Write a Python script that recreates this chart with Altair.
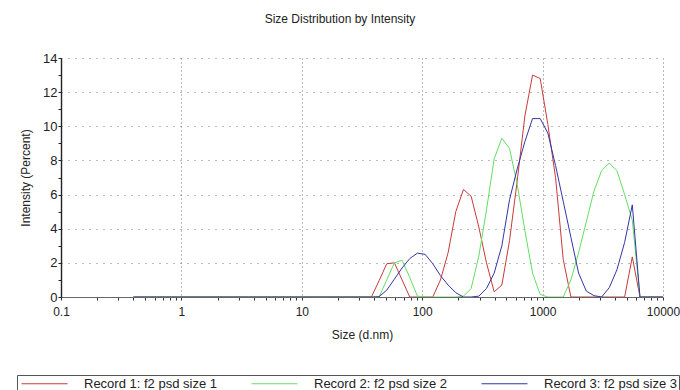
import altair as alt
import pandas as pd

# Malvern size classes (d.nm)
sizes = [0.4, 0.4632, 0.5365, 0.6213, 0.7195, 0.8332, 0.9649, 1.117, 1.294, 1.499,
         1.736, 2.01, 2.328, 2.696, 3.122, 3.615, 4.187, 4.849, 5.615, 6.503,
         7.531, 8.721, 10.1, 11.7, 13.54, 15.69, 18.17, 21.04, 24.36, 28.21,
         32.67, 37.84, 43.82, 50.75, 58.77, 68.06, 78.82, 91.28, 105.7, 122.4,
         141.8, 164.2, 190.1, 220.2, 255.0, 295.3, 342.0, 396.1, 458.7, 531.2,
         615.1, 712.4, 825.0, 955.4, 1106, 1281, 1484, 1718, 1990, 2305,
         2669, 3091, 3580, 4145, 4801, 5560, 6439, 7456, 8635, 10000]

record_1 = [0, 0, 0, 0, 0, 0, 0, 0, 0, 0,
            0, 0, 0, 0, 0, 0, 0, 0, 0, 0,
            0, 0, 0, 0, 0, 0, 0, 0, 0, 0,
            0, 0, 0.95, 1.95, 2.0, 1.0, 0, 0, 0, 0,
            1.0, 2.6, 5.0, 6.3, 5.9, 4.1, 2.0, 0.3, 0.7, 3.3,
            6.8, 10.6, 13.0, 12.8, 10.1, 7.0, 2.2, 0, 0, 0,
            0, 0, 0, 0, 0, 2.35, 0, 0, 0, 0]

record_2 = [0, 0, 0, 0, 0, 0, 0, 0, 0, 0,
            0, 0, 0, 0, 0, 0, 0, 0, 0, 0,
            0, 0, 0, 0, 0, 0, 0, 0, 0, 0,
            0, 0, 0, 1.0, 2.0, 2.15, 1.15, 0.05, 0, 0,
            0, 0, 0, 0.05, 0.5, 2.4, 5.1, 8.1, 9.3, 8.7,
            6.6, 3.9, 1.4, 0.15, 0, 0, 0, 1.0, 2.6, 4.4,
            6.2, 7.4, 7.85, 7.4, 6.0, 4.5, 0, 0, 0, 0]

record_3 = [0, 0, 0, 0, 0, 0, 0, 0, 0, 0,
            0, 0, 0, 0, 0, 0, 0, 0, 0, 0,
            0, 0, 0, 0, 0, 0, 0, 0, 0, 0,
            0, 0, 0.02, 0.4, 1.05, 1.7, 2.25, 2.57, 2.5, 1.95,
            1.25, 0.7, 0.25, 0, 0, 0.05, 0.5, 1.4, 3.0, 5.7,
            7.5, 9.1, 10.45, 10.45, 9.6, 7.7, 5.6, 3.5, 1.4, 0.35,
            0.08, 0, 0.55, 1.6, 3.2, 5.4, 0, 0, 0, 0]

series_names = ["Record 1: f2 psd size 1", "Record 2: f2 psd size 2", "Record 3: f2 psd size 3"]
series_colors = ["#c93a3a", "#62de62", "#3535a8"]

x_ticks = [m * d for d in [0.1, 1, 10, 100, 1000] for m in range(1, 10)] + [10000]
y_ticks = list(range(0, 15))

rows = []
for name, vals in zip(series_names, [record_1, record_2, record_3]):
    for s, v in zip(sizes, vals):
        rows.append({"size": s, "intensity": v, "record": name})
df = pd.DataFrame(rows)

font = "Liberation Sans"
txt = "#222222"
x_major = "indexof([0.1, 1, 10, 100, 1000, 10000], datum.value) >= 0"
y_major = "datum.value % 2 == 0"

x_axis = alt.Axis(
    values=x_ticks,
    labelExpr=f"({x_major}) ? format(datum.value, '~g') : ''",
    labelOverlap=False, labelFlush=False,
    grid=True,
    gridOpacity={"condition": {"test": x_major, "value": 1}, "value": 0},
    gridColor="#777777", gridDash=[1, 3], gridWidth=1,
    tickSize=3, tickColor="#333333",
    domainColor="#666666",
    labelFont=font, labelFontSize=12, labelColor=txt, labelPadding=6,
    title="Size (d.nm)", titleFont=font, titleFontSize=12, titleFontWeight="normal",
    titleColor=txt, titleBaseline="middle", titleY=37,
)

y_axis = alt.Axis(
    values=y_ticks,
    labelExpr=f"({y_major}) ? datum.label : ''",
    labelOverlap=False, labelFlush=False,
    grid=True,
    gridOpacity={"condition": {"test": f"({y_major}) && datum.value > 0", "value": 1}, "value": 0},
    gridColor="#777777", gridDash=[1, 6], gridWidth=1,
    tickSize=3, tickColor="#222222",
    domainColor="#222222", domainWidth=1.4,
    labelFont=font, labelFontSize=13, labelColor=txt, labelPadding=1,
    title="Intensity (Percent)", titleFont=font, titleFontSize=12, titleFontWeight="normal",
    titleColor=txt, titleBaseline="middle", titleX=-36,
)

legend = alt.Legend(
    title=None, orient="none", legendX=-44, legendY=317,
    direction="horizontal", columns=3,
    symbolType="stroke", symbolSize=2116, symbolStrokeWidth=1, symbolOffset=2,
    clipHeight=13,
    labelFont=font, labelFontSize=13, labelColor=txt, labelOffset=16, labelLimit=300,
    columnPadding=32, padding=2, strokeColor="#555555", fillColor="white",
)

chart = alt.Chart(df).mark_line(strokeWidth=1, clip=True).encode(
    x=alt.X("size:Q", scale=alt.Scale(type="log", domain=[0.1, 10000], nice=False), axis=x_axis),
    y=alt.Y("intensity:Q", scale=alt.Scale(domain=[0, 14], nice=False), axis=y_axis),
    color=alt.Color("record:N", scale=alt.Scale(domain=series_names, range=series_colors), legend=legend),
).properties(
    width=602, height=239,
    autosize=alt.AutoSizeParams(type="none"),
    padding={"left": 61, "top": 58, "right": 17, "bottom": 93},
    title=alt.TitleParams("Size Distribution by Intensity", font=font, fontSize=12,
                          fontWeight="normal", color=txt, anchor="middle", dx=-22, offset=26),
    background="white",
).configure_view(strokeWidth=0)

chart.save("out.html", embed_options={"renderer": "svg", "actions": False})
